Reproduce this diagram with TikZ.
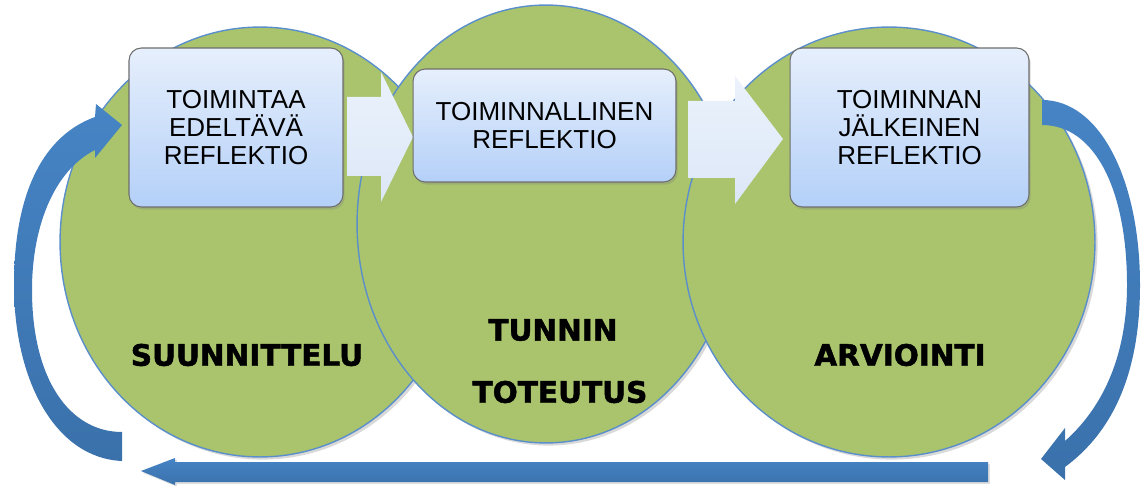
\documentclass[tikz,border=0pt]{standalone}
\usepackage{fontspec}
\setmainfont{Liberation Sans}
\newfontfamily\labelfont{DejaVu Sans}[BoldFeatures={FakeBold=1.6}]
\usetikzlibrary{shapes.geometric,shadows}
\definecolor{phasegreen}{HTML}{A9C46C}
\definecolor{phaseline}{HTML}{5B8FCB}
\definecolor{boxtop}{HTML}{E6EFFC}
\definecolor{boxbottom}{HTML}{B4D0F8}
\definecolor{boxline}{HTML}{6E6E6E}
\definecolor{steptop}{HTML}{EBF2FC}
\definecolor{stepbottom}{HTML}{DCE7F7}
\definecolor{looptop}{HTML}{4684C5}
\definecolor{loopbottom}{HTML}{3A71AB}
\tikzset{
  phase/.style={ellipse, draw=phaseline, line width=0.8pt, fill=phasegreen,
    inner sep=0pt, outer sep=0pt,
    drop shadow={opacity=0.3, shadow xshift=1.5pt, shadow yshift=-1.5pt}},
  reflection/.style={rectangle, rounded corners=7pt, draw=boxline, line width=0.6pt,
    top color=boxtop, bottom color=boxbottom, align=center, inner sep=0pt,
    font=\fontsize{14.8}{16}\selectfont,
    drop shadow={opacity=0.3, shadow xshift=1pt, shadow yshift=-1.5pt}},
  phaselabel/.style={font=\labelfont\bfseries\fontsize{16.8}{18}\selectfont},
  stepshape/.style={top color=steptop, bottom color=stepbottom},
  loopshape/.style={top color=looptop, bottom color=loopbottom},
}
\begin{document}
\begin{tikzpicture}[x=0.02cm, y=-0.02cm]
\useasboundingbox (0,0) rectangle (1146,486);
% phases
\node[phase, minimum width=8cm, minimum height=8.6cm] (plan) at (260,242) {};
\node[phase, minimum width=7.56cm, minimum height=8.76cm] (lesson) at (546,224) {};
\node[phase, minimum width=8.24cm, minimum height=8.6cm] (assess) at (889,242) {};
\node[phaselabel] (planlabel) at (247,355) {SUUNNITTELU};
\node[phaselabel] (lessonlabel) at (553,330) {TUNNIN};
\node[phaselabel] (lessonlabel2) at (560,392) {TOTEUTUS};
\node[phaselabel] (assesslabel) at (900,355) {ARVIOINTI};
% steps between the reflections
\path[stepshape] (347,97) -- (381,97) -- (381,72) -- (413,137) -- (381,202)
  -- (381,176) -- (347,176) -- cycle;
\path[stepshape] (688,101) -- (735,101) -- (735,76) -- (783,139) -- (735,204)
  -- (735,178) -- (688,178) -- cycle;
% reflections
\node[reflection, minimum width=4.28cm, minimum height=3.18cm] (before) at (236,127.5)
  {TOIMINTAA\\EDELTÄVÄ\\REFLEKTIO};
\node[reflection, minimum width=5.26cm, minimum height=2.26cm] (during) at (544.5,125.5)
  {TOIMINNALLINEN\\REFLEKTIO};
\node[reflection, minimum width=4.78cm, minimum height=3.18cm] (after) at (909.5,127.5)
  {TOIMINNAN\\JÄLKEINEN\\REFLEKTIO};
% loop back
\path[loopshape, drop shadow={opacity=0.25, shadow xshift=1pt, shadow yshift=-1pt}]
  (988,462) -- (175,462) -- (175,458) -- (141,471) -- (175,485) -- (175,482)
  -- (988,482) -- cycle;
\path[loopshape]
  (122,461) .. controls (55,458) and (14,380) .. (14,285)
  .. controls (14,190) and (45,135) .. (95,117)
  -- (96,104) -- (122,125) -- (95,158) -- (95,150)
  .. controls (55,170) and (32,225) .. (32,290)
  .. controls (32,380) and (70,432) .. (122,432) -- cycle;
\path[loopshape]
  (1042,100) .. controls (1100,100) and (1140,180) .. (1140,285)
  .. controls (1140,370) and (1115,430) .. (1065,467)
  -- (1065,480) -- (1041,459) -- (1065,428) -- (1065,441)
  .. controls (1100,410) and (1127,360) .. (1127,285)
  .. controls (1127,190) and (1095,125) .. (1042,125) -- cycle;
\end{tikzpicture}
\end{document}
